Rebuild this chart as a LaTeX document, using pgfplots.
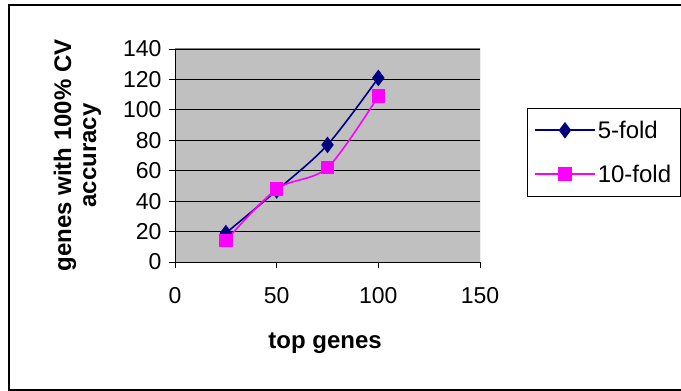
\documentclass[border=0pt]{standalone}
\usepackage{pgfplots}
\pgfplotsset{compat=1.18}
\usepackage{fontspec}
\setmainfont{Liberation Sans}
\definecolor{plotgray}{HTML}{C0C0C0}
\definecolor{navy5}{HTML}{000080}
\definecolor{mag10}{HTML}{FF00FF}
\begin{document}
\begin{tikzpicture}[x=1pt,y=1pt]
\useasboundingbox (0,0) rectangle (681,391);
\draw[black, line width=1.6pt] (9,1) rectangle (720,386);
\begin{axis}[
  at={(175pt,129pt)}, anchor=south west,
  scale only axis, width=305pt, height=213pt,
  xmin=0, xmax=150, ymin=0, ymax=140,
  xtick={0,50,100,150}, ytick={0,20,...,140},
  axis x line*=bottom, axis y line*=left,
  axis line style={black, line width=0.8pt, -},
  tick align=outside, major tick length=6pt,
  tick style={black, line width=0.8pt},
  ymajorgrids, major grid style={black, line width=0.9pt},
  axis background/.style={fill=plotgray},
  /pgf/number format/assume math mode=true,
  ticklabel style={font=\fontsize{23}{25}\selectfont},
  xticklabel style={yshift=-16pt},
  yticklabel style={xshift=-4pt},
  xlabel={\textbf{top genes}},
  xlabel style={font=\fontsize{24}{26}\selectfont, at={(axis description cs:0.492,-0.38)}, anchor=center},
  ylabel={\textbf{genes with 100\% CV}\\\textbf{accuracy}},
  ylabel style={font=\fontsize{24}{25}\selectfont, align=center, at={(axis description cs:-0.32,0.5)}, anchor=center},
  legend cell align=left,
  legend style={at={(1.154,0.725)}, anchor=north west, draw=black,
    fill=white, font=\fontsize{24}{26}\selectfont, inner xsep=7pt, inner ysep=11pt,
    row sep=21pt, /tikz/every even column/.append style={column sep=2pt}},
  legend image code/.code={\draw[mark repeat=2, mark phase=2, line width=1.6pt] plot coordinates {(0pt,0pt) (30pt,0pt) (60pt,0pt)};},
]
\addplot[navy5, line width=1.6pt, smooth, mark=diamond*, mark size=7pt, mark options={solid, fill=navy5}]
  coordinates {(25,19) (50,47) (75,77) (100,121)};
\addlegendentry{5-fold}
\addplot[mag10, line width=1.6pt, smooth, mark=square*, mark size=6pt, mark options={solid, fill=mag10}]
  coordinates {(25,14) (50,48) (75,62) (100,109)};
\addlegendentry{10-fold}
\draw[gray, line width=1pt] (rel axis cs:0,1) -- (rel axis cs:1,1) -- (rel axis cs:1,0);
\end{axis}
\end{tikzpicture}
\end{document}
